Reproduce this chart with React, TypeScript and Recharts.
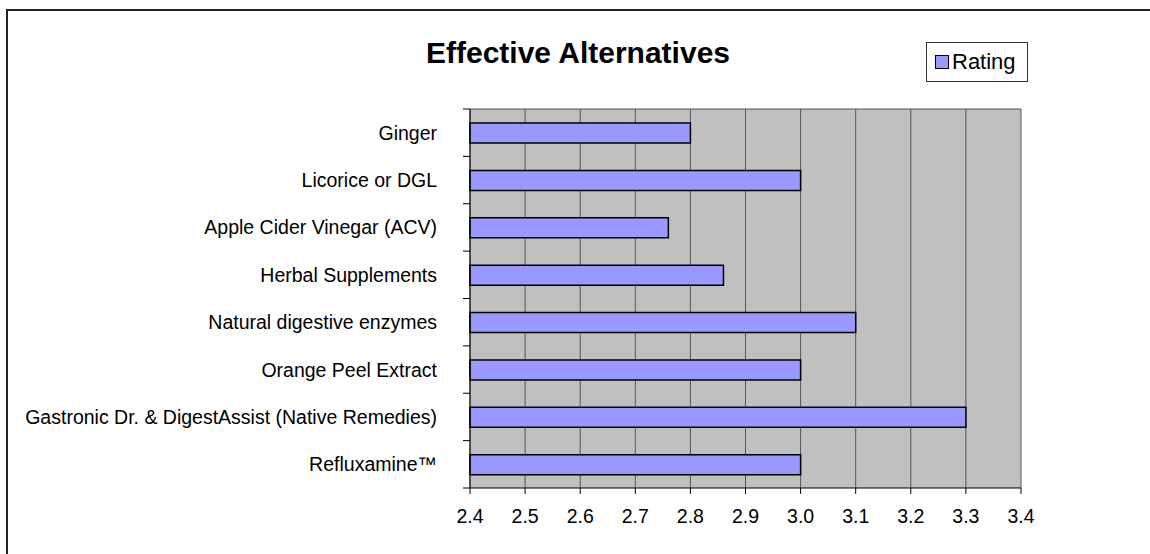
import React from 'react';
import { BarChart, Bar, XAxis, YAxis, CartesianGrid, Legend } from 'recharts';

const categories = [
  'Ginger',
  'Licorice or DGL',
  'Apple Cider Vinegar (ACV)',
  'Herbal Supplements',
  'Natural digestive enzymes',
  'Orange Peel Extract',
  'Gastronic Dr. & DigestAssist (Native Remedies)',
  'Refluxamine™',
];
const ratings = [2.8, 3.0, 2.76, 2.86, 3.1, 3.0, 3.3, 3.0];
const xTicks = [2.4, 2.5, 2.6, 2.7, 2.8, 2.9, 3.0, 3.1, 3.2, 3.3, 3.4];

const W = 1150;
const H = 554;
const MARGIN = { top: 109, right: 129, bottom: 36, left: 0 };
const X_AXIS_H = 30;
const PLOT_H = H - MARGIN.top - MARGIN.bottom - X_AXIS_H;
const FONT = '"Liberation Sans", Arial, sans-serif';

const data = categories.map((name, i) => ({ name, rating: ratings[i] }));

// category label plus a tick mark on the band boundary (Excel style)
const CategoryTick = (props: any) => {
  const { x, y, payload, index } = props;
  const band = PLOT_H / categories.length;
  return (
    <g>
      <line x1={x - 7} x2={x} y1={y - band / 2} y2={y - band / 2} stroke="#000" />
      {index === categories.length - 1 && (
        <line x1={x - 7} x2={x} y1={y + band / 2} y2={y + band / 2} stroke="#000" />
      )}
      <text
        x={x - 33}
        y={y}
        textAnchor="end"
        dominantBaseline="central"
        fontSize={19.5}
        fontFamily={FONT}
        fill="#000"
      >
        {payload.value}
      </text>
    </g>
  );
};

const LegendBox = (props: any) => {
  const { payload } = props;
  return (
    <div
      style={{
        border: '1px solid #333',
        width: 102,
        height: 40,
        boxSizing: 'border-box',
        background: '#fff',
        display: 'flex',
        alignItems: 'center',
        paddingLeft: 8,
        fontFamily: FONT,
        fontSize: 22,
      }}
    >
      {(payload || []).map((p: any) => (
        <span key={p.value} style={{ display: 'flex', alignItems: 'center' }}>
          <span
            style={{
              display: 'inline-block',
              width: 12,
              height: 12,
              background: '#9999FF',
              border: '1.5px solid #000',
              marginRight: 3,
            }}
          />
          {p.value}
        </span>
      ))}
    </div>
  );
};

export default function App() {
  return (
    <div style={{ position: 'absolute', left: 0, top: 0, width: W, height: H, background: '#fff', overflow: 'hidden' }}>
      <div
        style={{
          position: 'absolute',
          left: 6,
          top: 9,
          width: W,
          height: H,
          borderLeft: '2px solid #222',
          borderTop: '2px solid #222',
        }}
      />
      <div style={{ position: 'absolute', left: 0, top: 0 }}>
        <BarChart width={W} height={H} data={data} layout="vertical" margin={MARGIN}>
          <CartesianGrid
            fill="#C0C0C0"
            stroke="#555"
            horizontalCoordinatesGenerator={({ offset }: any) => [offset.top]}
          />
          <XAxis
            type="number"
            domain={[2.4, 3.4]}
            ticks={xTicks}
            tickFormatter={(v: number) => v.toFixed(1)}
            height={X_AXIS_H}
            axisLine={{ stroke: '#000' }}
            tickLine={{ stroke: '#000' }}
            tickSize={6}
            tickMargin={15}
            tick={{ fontSize: 19.5, fill: '#000', fontFamily: FONT }}
            interval={0}
          />
          <YAxis
            type="category"
            dataKey="name"
            width={470}
            axisLine={{ stroke: '#000' }}
            tickLine={false}
            tickSize={0}
            tickMargin={0}
            tick={<CategoryTick />}
            interval={0}
          />
          <Legend
            layout="vertical"
            align="center"
            verticalAlign="middle"
            content={<LegendBox />}
            wrapperStyle={{ position: 'absolute', left: 926, top: 42, width: 102, height: 40 }}
          />
          <Bar
            dataKey="rating"
            name="Rating"
            fill="#9999FF"
            stroke="#000"
            strokeWidth={1.5}
            barSize={20}
            isAnimationActive={false}
          />
        </BarChart>
      </div>
      <svg width={W} height={H} style={{ position: 'absolute', left: 0, top: 0, pointerEvents: 'none' }}>
        <text x={578} y={63} textAnchor="middle" fontSize={30} fontWeight="bold" fontFamily={FONT} fill="#000">
          Effective Alternatives
        </text>
      </svg>
    </div>
  );
}
